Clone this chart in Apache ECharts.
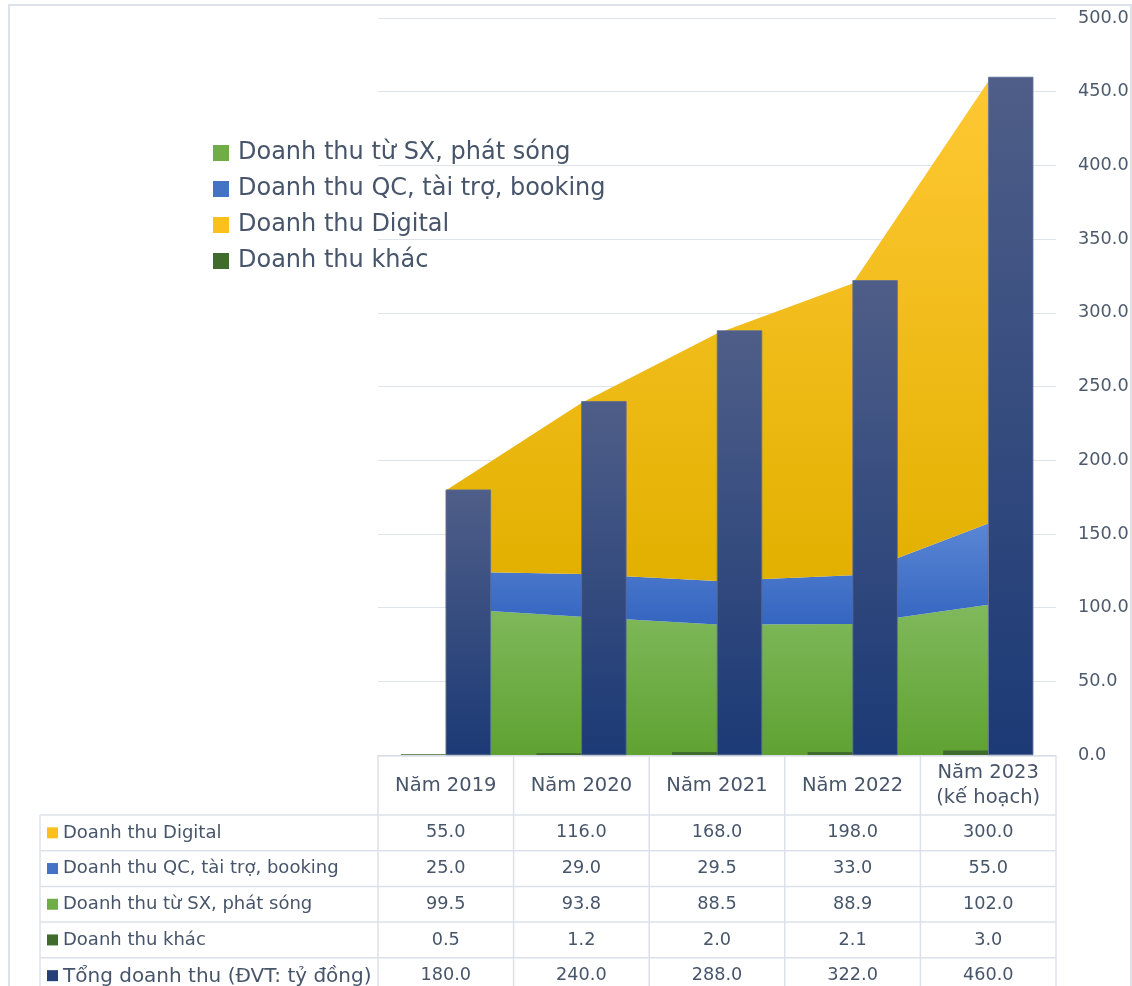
<!DOCTYPE html>
<html>
<head>
<meta charset="utf-8">
<script src="https://cdn.jsdelivr.net/npm/echarts@6/dist/echarts.min.js"></script>
<style>
html,body{margin:0;padding:0;background:#fff;}
#main{width:1132px;height:986px;}
</style>
</head>
<body>
<div id="main"></div>
<script>
const categories = ['Năm 2019', 'Năm 2020', 'Năm 2021', 'Năm 2022', 'Năm 2023\n(kế hoạch)'];
const digital = [55.0, 116.0, 168.0, 198.0, 300.0];
const qc = [25.0, 29.0, 29.5, 33.0, 55.0];
const sx = [99.5, 93.8, 88.5, 88.9, 102.0];
const khac = [0.5, 1.2, 2.0, 2.1, 3.0];
const tong = [180.0, 240.0, 288.0, 322.0, 460.0];
const yTicks = [0, 50, 100, 150, 200, 250, 300, 350, 400, 450, 500];

const names = {
  digital: 'Doanh thu Digital',
  qc: 'Doanh thu QC, tài trợ, booking',
  sx: 'Doanh thu từ SX, phát sóng',
  khac: 'Doanh thu khác',
  tong: 'Tổng doanh thu (ĐVT: tỷ đồng)'
};
const colors = {
  digital: '#fbc01c', qc: '#4472c4', sx: '#70ad47', khac: '#416b2c', tong: '#203f78'
};
const FONT = 'DejaVu Sans';
const TXT = '#47556a';

function grad(top, bottom) {
  return new echarts.graphic.LinearGradient(0, 0, 0, 1, [
    {offset: 0, color: top}, {offset: 1, color: bottom}
  ]);
}

const chart = echarts.init(document.getElementById('main'), null, {renderer: 'canvas'});

const option = {
  animation: false,
  backgroundColor: '#ffffff',
  textStyle: {fontFamily: FONT},
  grid: {left: 378, right: 76, top: 18, bottom: 231, containLabel: false},
  legend: {
    orient: 'vertical',
    left: 213,
    top: 141,
    padding: 0,
    itemWidth: 16,
    itemHeight: 16,
    itemGap: 12,
    icon: 'rect',
    selectedMode: false,
    textStyle: {fontFamily: FONT, fontSize: 24, color: TXT, padding: [0, 0, 0, 4]},
    data: [
      {name: names.sx, itemStyle: {color: colors.sx}},
      {name: names.qc, itemStyle: {color: colors.qc}},
      {name: names.digital, itemStyle: {color: colors.digital}},
      {name: names.khac, itemStyle: {color: colors.khac}}
    ]
  },
  xAxis: {
    type: 'category',
    data: categories,
    boundaryGap: true,
    axisLine: {show: true, lineStyle: {color: '#d9dee6', width: 1}},
    axisTick: {show: false},
    axisLabel: {show: false},
    splitLine: {show: false}
  },
  yAxis: {
    type: 'value',
    position: 'right',
    min: yTicks[0],
    max: yTicks[yTicks.length - 1],
    interval: 50,
    axisLine: {show: false},
    axisTick: {show: false},
    splitLine: {show: true, lineStyle: {color: '#dfe3ea', width: 1}},
    axisLabel: {
      margin: 22,
      fontFamily: FONT,
      fontSize: 17.7,
      color: '#4d5a6c',
      formatter: v => v.toFixed(1)
    }
  },
  series: [
    {
      name: names.sx, type: 'line', stack: 'area', data: sx,
      symbol: 'none', lineStyle: {width: 0}, z: 1,
      itemStyle: {color: colors.sx},
      areaStyle: {color: grad('#80b95c', '#5fa232'), opacity: 1}
    },
    {
      name: names.qc, type: 'line', stack: 'area', data: qc,
      symbol: 'none', lineStyle: {width: 0}, z: 1,
      itemStyle: {color: colors.qc},
      areaStyle: {color: grad('#5a86d4', '#3465c0'), opacity: 1}
    },
    {
      name: names.digital, type: 'line', stack: 'area', data: digital,
      symbol: 'none', lineStyle: {width: 0}, z: 1,
      itemStyle: {color: colors.digital},
      areaStyle: {color: grad('#ffc834', '#e2b000'), opacity: 1}
    },
    {
      name: names.khac, type: 'bar', data: khac,
      barWidth: 45, barGap: '0%', z: 3,
      itemStyle: {color: colors.khac}
    },
    {
      name: names.tong, type: 'bar', data: tong,
      barWidth: 45, barGap: '0%', z: 3,
      itemStyle: {color: grad('#4f5e88', '#1c3a76'), borderColor: '#5d6d96', borderWidth: 0.5}
    }
  ]
};

chart.setOption(option);

// Data table built from the same arrays, positioned via the chart's own x scale
const xs = categories.map((c, i) => chart.convertToPixel({xAxisIndex: 0}, i));
const y0 = chart.convertToPixel({yAxisIndex: 0}, 0);
const cw = xs[1] - xs[0];
const tableLeft = 40;
const colLeft = xs[0] - cw / 2;
const colRight = xs[xs.length - 1] + cw / 2;
const headTop = y0 + 1;
const headBottom = headTop + 59;
const rowH = 35.7;
const bottom = 1000;
const LINE = '#dce1e9';

const rows = [
  {key: 'digital', vals: digital},
  {key: 'qc', vals: qc},
  {key: 'sx', vals: sx},
  {key: 'khac', vals: khac},
  {key: 'tong', vals: tong}
];

const g = [];
// outer frame
g.push({type: 'rect', shape: {x: 9, y: 5, width: 1122, height: 1000},
  style: {fill: 'none', stroke: '#dde2ea', lineWidth: 2}, z: 0, silent: true});

// horizontal lines
g.push({type: 'line', shape: {x1: colLeft, y1: headTop, x2: colRight, y2: headTop}, style: {stroke: LINE, lineWidth: 1.5}});
for (let r = 0; r <= rows.length; r++) {
  const y = headBottom + r * rowH;
  g.push({type: 'line', shape: {x1: tableLeft, y1: y, x2: colRight, y2: y}, style: {stroke: LINE, lineWidth: 1.5}});
}
// vertical lines
g.push({type: 'line', shape: {x1: tableLeft, y1: headBottom, x2: tableLeft, y2: bottom}, style: {stroke: LINE, lineWidth: 1.5}});
for (let i = 0; i <= categories.length; i++) {
  const x = colLeft + i * cw;
  g.push({type: 'line', shape: {x1: x, y1: headTop, x2: x, y2: bottom}, style: {stroke: LINE, lineWidth: 1.5}});
}
// header texts
categories.forEach((c, i) => {
  g.push({type: 'text', x: xs[i], y: (headTop + headBottom) / 2,
    style: {text: c, fontFamily: FONT, fontSize: 19.5, fill: TXT, align: 'center', verticalAlign: 'middle', lineHeight: 25}});
});
// rows
rows.forEach((row, r) => {
  const cy = headBottom + r * rowH + rowH / 2;
  const isTotal = row.key === 'tong';
  g.push({type: 'rect', shape: {x: 47, y: cy - 5.5, width: 11, height: 11},
    style: {fill: row.key === 'tong' ? '#253f78' : colors[row.key]}});
  g.push({type: 'text', x: 63, y: cy + (isTotal ? 1 : 0),
    style: {text: names[row.key], fontFamily: FONT, fontSize: isTotal ? 20 : 18, fill: TXT, align: 'left', verticalAlign: 'middle'}});
  row.vals.forEach((v, i) => {
    g.push({type: 'text', x: xs[i], y: cy,
      style: {text: v.toFixed(1), fontFamily: FONT, fontSize: 17.7, fill: TXT, align: 'center', verticalAlign: 'middle'}});
  });
});

chart.setOption({graphic: {elements: g}});
</script>
</body>
</html>
